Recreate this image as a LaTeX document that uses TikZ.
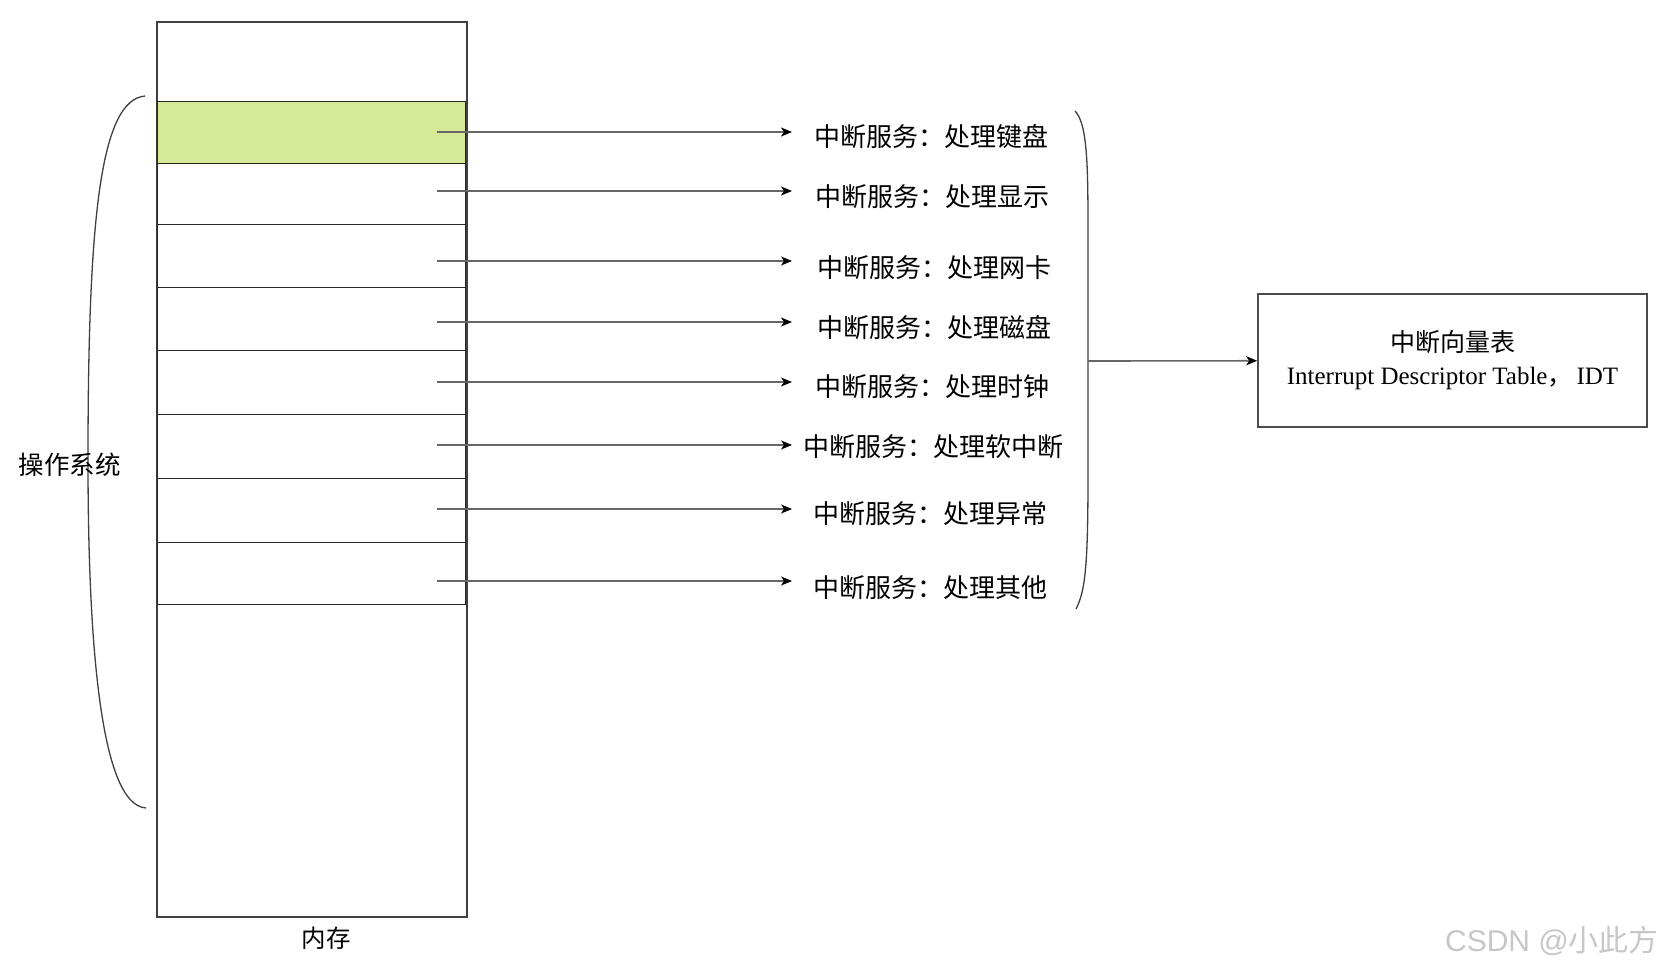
\documentclass[tikz,border=0pt]{standalone}
\usepackage{fontspec}
\setmainfont{Liberation Serif}
\newfontfamily\cjk{Noto Sans CJK SC}
\newfontfamily\wmfont{Liberation Sans}
\usetikzlibrary{arrows.meta}
\definecolor{slotgreen}{RGB}{213,233,150}
\begin{document}
\begin{tikzpicture}[x=1pt,y=-1pt,
  slot/.style={draw=black!85, line width=1.4pt, minimum width=308pt, inner sep=0pt, anchor=north west},
  arr/.style={draw=black!60, line width=1.6pt, -{Stealth[length=11pt,width=9pt,inset=3pt,color=black]}},
  lab/.style={font=\cjk\fontsize{26}{30}\selectfont, inner sep=0pt},
  brace/.style={draw=black!75, line width=1.3pt},
]
\fill[white] (0,0) rectangle (1664,970);
\useasboundingbox (0,0) rectangle (1664,970);

% memory column
\node[draw=black!75, line width=2pt, minimum width=310pt, minimum height=895pt, inner sep=0pt] (mem) at (312,469.5) {};
\node[slot, fill=slotgreen, minimum height=62pt] (s1) at (157,101) {};
\node[slot, minimum height=61pt] (s2) at (157,163) {};
\node[slot, minimum height=63pt] (s3) at (157,224) {};
\node[slot, minimum height=63pt] (s4) at (157,287) {};
\node[slot, minimum height=64pt] (s5) at (157,350) {};
\node[slot, minimum height=64pt] (s6) at (157,414) {};
\node[slot, minimum height=64pt] (s7) at (157,478) {};
\node[slot, minimum height=62pt] (s8) at (157,542) {};
\node[lab, font=\cjk\fontsize{24.5}{28}\selectfont] (memlab) at (326,938.5) {内存};

% left brace and OS label
\draw[brace] (145,96) .. controls (100,100) and (88,220) .. (88,460) .. controls (88,640) and (100,805) .. (146,808);
\node[lab, font=\cjk\fontsize{25.5}{30}\selectfont] (os) at (69.5,465) {操作系统};

% labels
\node[lab] (l1) at (931,136.5) {中断服务：处理键盘};
\node[lab] (l2) at (932,197) {中断服务：处理显示};
\node[lab] (l3) at (934,267.6) {中断服务：处理网卡};
\node[lab] (l4) at (934,328) {中断服务：处理磁盘};
\node[lab] (l5) at (932,386.6) {中断服务：处理时钟};
\node[lab] (l6) at (933,447) {中断服务：处理软中断};
\node[lab] (l7) at (930,514) {中断服务：处理异常};
\node[lab] (l8) at (930,588) {中断服务：处理其他};

% arrows
\foreach \i/\y in {1/132,2/191,3/261,4/322,5/382,6/445,7/509,8/581}{
  \coordinate (t\i) at (792,\y);
  \draw[arr] (s\i.east |- t\i) ++(-29,0) -- (t\i);
}

% right brace
\draw[brace] (1075,111) .. controls (1088,124) and (1088,170) .. (1088,240) -- (1088,470) .. controls (1088,560) and (1086,590) .. (1076,609);
\coordinate (rb) at (1088,361);

% IDT box
\node[draw=black!70, line width=1.6pt, minimum width=389pt, minimum height=133pt, align=center, inner sep=0pt, font=\fontsize{25}{33}\selectfont] (idt) at (1452.5,360.5)
  {{\cjk 中断向量表}\\ Interrupt Descriptor Table{\cjk ，}\hspace{4pt}IDT};
\draw[arr] (rb) -- (idt);

% watermark
\node[inner sep=0pt, font=\wmfont\fontsize{30}{36}\selectfont, text=black!22] (wm) at (1552,941) {CSDN @{\cjk 小此方}};
\end{tikzpicture}
\end{document}
